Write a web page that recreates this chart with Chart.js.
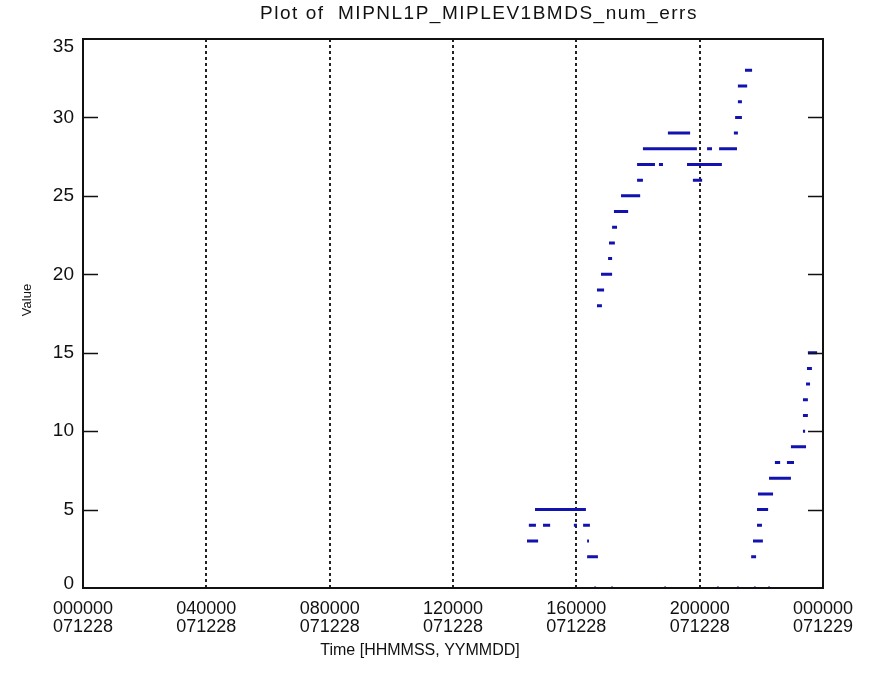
<!DOCTYPE html>
<html>
<head>
<meta charset="utf-8">
<script src="https://cdn.jsdelivr.net/npm/chart.js@4.4.0/dist/chart.umd.min.js"></script>
<style>
  html, body { margin: 0; padding: 0; background: #fff; }
  #wrap { width: 873px; height: 675px; }
</style>
</head>
<body>
<div id="wrap"><canvas id="myChart" width="873" height="675"></canvas></div>
<script>
// time in hours since 000000 071228, each run of equal values is one dash
var dashStart = [14.66, 14.46, 14.92, 15.92, 16.22, 14.40, 16.35, 16.35, 16.67, 16.67,
                 16.80, 17.03, 17.06, 17.16, 17.22, 17.45, 17.97, 17.97, 18.68, 18.16,
                 18.97, 19.59, 19.78, 20.24, 20.63, 21.11, 21.15, 21.24, 21.24, 21.47,
                 21.67, 21.73, 21.86, 21.86, 21.89, 22.25, 22.44, 22.83, 22.96, 23.35,
                 23.35, 23.35, 23.45, 23.48, 23.51,
                 16.58, 17.13, 18.85, 20.56, 21.21, 21.76, 22.22];
var dashEnd   = [16.31, 14.69, 15.15, 16.02, 16.44, 14.76, 16.41, 16.70, 16.90, 16.83,
                 17.16, 17.16, 17.25, 17.32, 17.68, 18.07, 18.16, 18.55, 18.81, 19.91,
                 19.69, 20.72, 20.08, 20.40, 21.21, 21.24, 21.37, 21.37, 21.54, 21.70,
                 21.83, 22.05, 22.02, 22.22, 22.38, 22.96, 22.61, 23.06, 23.45, 23.42,
                 23.51, 23.51, 23.58, 23.64, 23.81,
                 16.64, 17.19, 18.91, 20.62, 21.27, 21.82, 22.28];
var dashValue = [5, 4, 4, 4, 4, 3, 3, 2, 19, 18,
                 20, 21, 22, 23, 24, 25, 26, 27, 27, 28,
                 29, 27, 26, 28, 28, 29, 30, 31, 32, 33,
                 2, 3, 4, 5, 6, 7, 8, 8, 9, 10,
                 11, 12, 13, 14, 15,
                 0, 0, 0, 0, 0, 0, 0];

var timeTicks = ['000000', '040000', '080000', '120000', '160000', '200000', '000000'];
var dateTicks = ['071228', '071228', '071228', '071228', '071228', '071228', '071229'];
var yTicks = [0, 5, 10, 15, 20, 25, 30, 35];

var points = [];
for (let i = 0; i < dashValue.length; i++) {
    points.push({x: dashStart[i], y: dashValue[i]});
    points.push({x: dashEnd[i], y: dashValue[i]});
    points.push({x: dashEnd[i], y: null});
}

const fam = '"Liberation Sans", Arial, sans-serif';

// frame, inward y ticks, titles
const idlFrame = {
    id: 'idlFrame',
    afterDraw(chart) {
        const ctx = chart.ctx;
        const a = chart.chartArea;
        const ys = chart.scales.y;
        ctx.save();
        ctx.strokeStyle = '#111';
        ctx.lineWidth = 2;
        ctx.strokeRect(a.left, a.top, a.right - a.left, a.bottom - a.top);
        ctx.beginPath();
        for (let i = 1; i < yTicks.length - 1; i++) {
            const py = Math.round(ys.getPixelForValue(yTicks[i])) + 0.5;
            ctx.moveTo(a.left, py); ctx.lineTo(a.left + 15, py);
            ctx.moveTo(a.right - 15, py); ctx.lineTo(a.right, py);
        }
        ctx.lineWidth = 1.5;
        ctx.stroke();

        ctx.fillStyle = '#111';
        ctx.textAlign = 'center';
        ctx.textBaseline = 'middle';
        ctx.font = '19px ' + fam;
        ctx.letterSpacing = '1.5px';
        ctx.fillText('Plot of  MIPNL1P_MIPLEV1BMDS_num_errs', 479, 14);
        ctx.letterSpacing = '0px';
        ctx.font = '16px ' + fam;
        ctx.fillText('Time [HHMMSS, YYMMDD]', 420, 651);
        ctx.translate(27, 300);
        ctx.rotate(-Math.PI / 2);
        ctx.font = '13px ' + fam;
        ctx.fillText('Value', 0, 0);
        ctx.restore();
    }
};

new Chart(document.getElementById('myChart').getContext('2d'), {
    type: 'scatter',
    data: {
        datasets: [{
            label: 'num_errs',
            data: points,
            showLine: true,
            spanGaps: false,
            borderColor: 'rgb(18,18,175)',
            borderWidth: 3,
            borderCapStyle: 'butt',
            pointRadius: 0,
            pointHoverRadius: 0
        }]
    },
    plugins: [idlFrame],
    options: {
        responsive: false,
        animation: false,
        layout: {padding: {top: 39, right: 50, left: 0, bottom: 0}},
        plugins: {legend: {display: false}, tooltip: {enabled: false}},
        scales: {
            x: {
                type: 'linear',
                min: 0, max: 24,
                afterBuildTicks(scale) {
                    scale.ticks = timeTicks.map((t, i) => ({value: i * 4}));
                },
                afterFit(scale) { scale.height = 87; },
                ticks: {
                    color: '#111',
                    padding: 12,
                    maxRotation: 0,
                    autoSkip: false,
                    font: {family: fam, size: 18, lineHeight: 1.0},
                    callback: (v, i) => [timeTicks[i], dateTicks[i]]
                },
                grid: {color: '#222', lineWidth: 2, drawTicks: false},
                border: {display: false, dash: [3, 3]}
            },
            y: {
                type: 'linear',
                min: 0, max: 35,
                afterBuildTicks(scale) {
                    // end labels sit slightly inside the frame, as in the original
                    scale.ticks = yTicks.map(v => ({value: v === 0 ? 0.3 : (v === 35 ? 34.5 : v)}));
                },
                afterFit(scale) { scale.width = 83; },
                ticks: {
                    color: '#111',
                    padding: 9,
                    font: {family: fam, size: 19},
                    callback: (v, i) => String(yTicks[i])
                },
                grid: {display: false, drawTicks: false},
                border: {display: false}
            }
        }
    }
});
</script>
</body>
</html>
